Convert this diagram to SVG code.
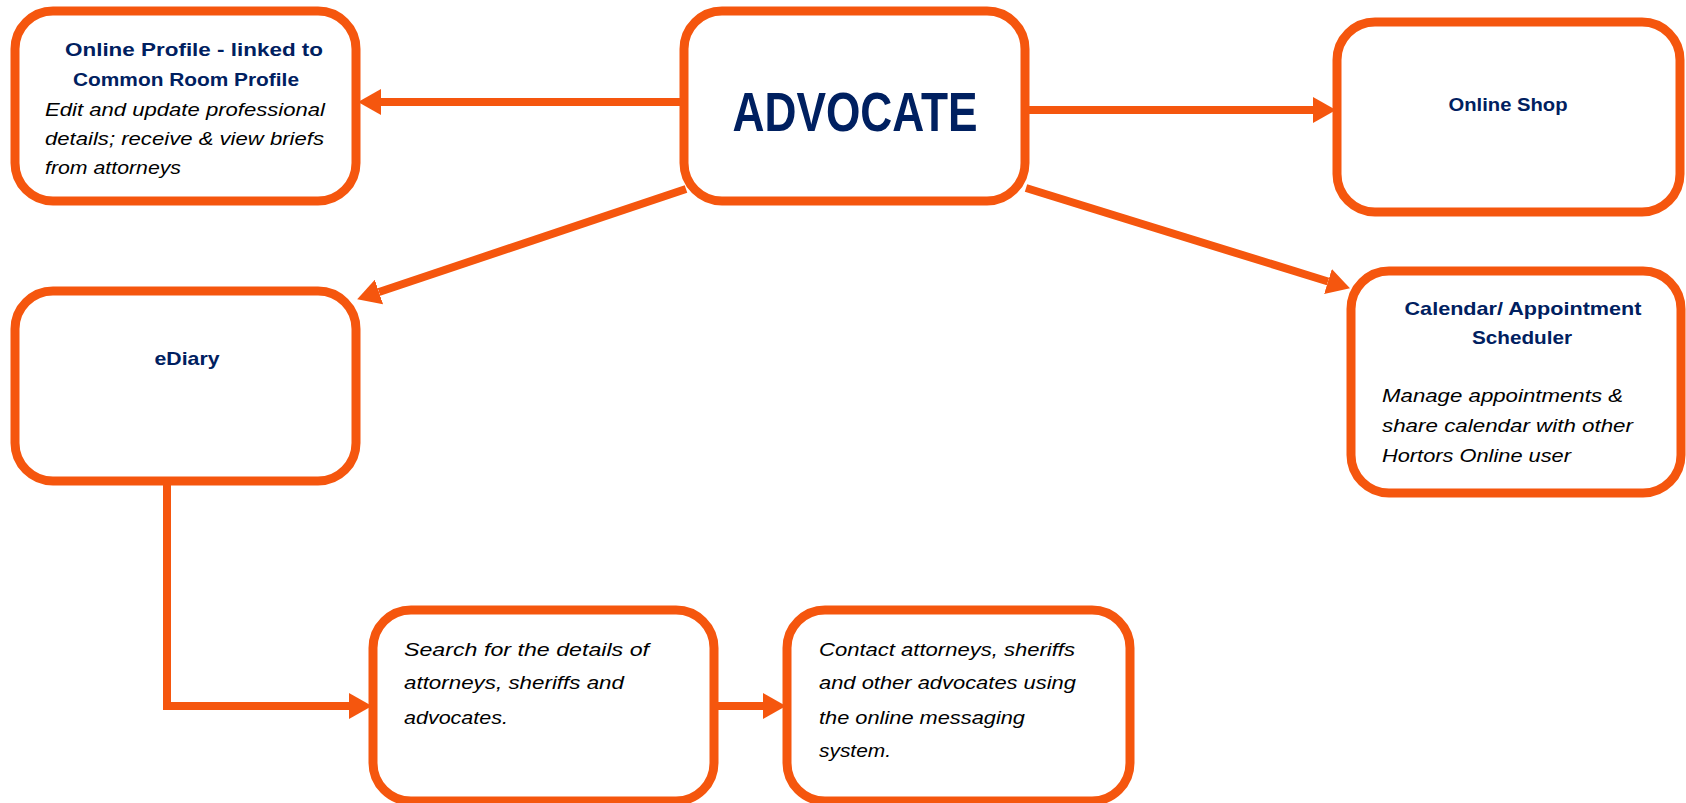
<svg xmlns="http://www.w3.org/2000/svg" width="1686" height="803" viewBox="0 0 1686 803">
<style>
.box{fill:#fff;stroke:#F5560E;stroke-width:9}
.con{fill:none;stroke:#F5560E;stroke-width:8}
.t{font-family:"Liberation Sans",Arial,sans-serif;font-weight:bold;fill:#002060;font-size:19px;text-anchor:middle}
.big{font-size:56px}
.i{font-family:"Liberation Sans",Arial,sans-serif;font-style:italic;fill:#000;font-size:19px}
</style>
<defs>
<marker id="ah" markerUnits="userSpaceOnUse" viewBox="0 0 23 26" refX="0" refY="13" markerWidth="23" markerHeight="26" orient="auto">
<path d="M0,0 L23,13 L0,26 Z" fill="#F5560E"/>
</marker>
</defs>
<g id="connectors">
<line class="con" x1="682" y1="102" x2="381" y2="102" marker-end="url(#ah)"/>
<line class="con" x1="1027" y1="110" x2="1313" y2="110" marker-end="url(#ah)"/>
<line class="con" x1="686" y1="189" x2="379" y2="292" marker-end="url(#ah)"/>
<line class="con" x1="1026" y1="188" x2="1328" y2="281.5" marker-end="url(#ah)"/>
<polyline class="con" points="167,482 167,706 349,706" marker-end="url(#ah)"/>
<line class="con" x1="715" y1="706" x2="763" y2="706" marker-end="url(#ah)"/>
</g>
<g id="profile">
<rect class="box" x="15" y="11" width="341" height="190" rx="38"/>
<text class="t" x="194" y="56" textLength="258" lengthAdjust="spacingAndGlyphs">Online Profile - linked to</text>
<text class="t" x="186" y="86" textLength="226" lengthAdjust="spacingAndGlyphs">Common Room Profile</text>
<text class="i" x="45" y="116" textLength="280" lengthAdjust="spacingAndGlyphs">Edit and update professional</text>
<text class="i" x="45" y="145" textLength="279" lengthAdjust="spacingAndGlyphs">details; receive &amp; view briefs</text>
<text class="i" x="45" y="174" textLength="136" lengthAdjust="spacingAndGlyphs">from attorneys</text>
</g>
<g id="advocate">
<rect class="box" x="684" y="11" width="341" height="190" rx="38"/>
<text class="t big" x="855" y="131" textLength="245" lengthAdjust="spacingAndGlyphs">ADVOCATE</text>
</g>
<g id="shop">
<rect class="box" x="1337" y="22" width="343" height="190" rx="38"/>
<text class="t" x="1508" y="111" textLength="119" lengthAdjust="spacingAndGlyphs">Online Shop</text>
</g>
<g id="ediary">
<rect class="box" x="15" y="291" width="341" height="190" rx="38"/>
<text class="t" x="187" y="365" textLength="65" lengthAdjust="spacingAndGlyphs">eDiary</text>
</g>
<g id="calendar">
<rect class="box" x="1351" y="271" width="330" height="222" rx="38"/>
<text class="t" x="1523" y="315" textLength="237" lengthAdjust="spacingAndGlyphs">Calendar/ Appointment</text>
<text class="t" x="1522" y="344" textLength="100" lengthAdjust="spacingAndGlyphs">Scheduler</text>
<text class="i" x="1382" y="402" textLength="241" lengthAdjust="spacingAndGlyphs">Manage appointments &amp;</text>
<text class="i" x="1382" y="432" textLength="251" lengthAdjust="spacingAndGlyphs">share calendar with other</text>
<text class="i" x="1382" y="462" textLength="189" lengthAdjust="spacingAndGlyphs">Hortors Online user</text>
</g>
<g id="search">
<rect class="box" x="373" y="610" width="341" height="191" rx="38"/>
<text class="i" x="404" y="656" textLength="245" lengthAdjust="spacingAndGlyphs">Search for the details of</text>
<text class="i" x="404" y="689" textLength="220" lengthAdjust="spacingAndGlyphs">attorneys, sheriffs and</text>
<text class="i" x="404" y="724" textLength="104" lengthAdjust="spacingAndGlyphs">advocates.</text>
</g>
<g id="contact">
<rect class="box" x="787" y="610" width="343" height="191" rx="38"/>
<text class="i" x="819" y="656" textLength="256" lengthAdjust="spacingAndGlyphs">Contact attorneys, sheriffs</text>
<text class="i" x="819" y="689" textLength="257" lengthAdjust="spacingAndGlyphs">and other advocates using</text>
<text class="i" x="819" y="724" textLength="206" lengthAdjust="spacingAndGlyphs">the online messaging</text>
<text class="i" x="819" y="757" textLength="72" lengthAdjust="spacingAndGlyphs">system.</text>
</g>
</svg>
